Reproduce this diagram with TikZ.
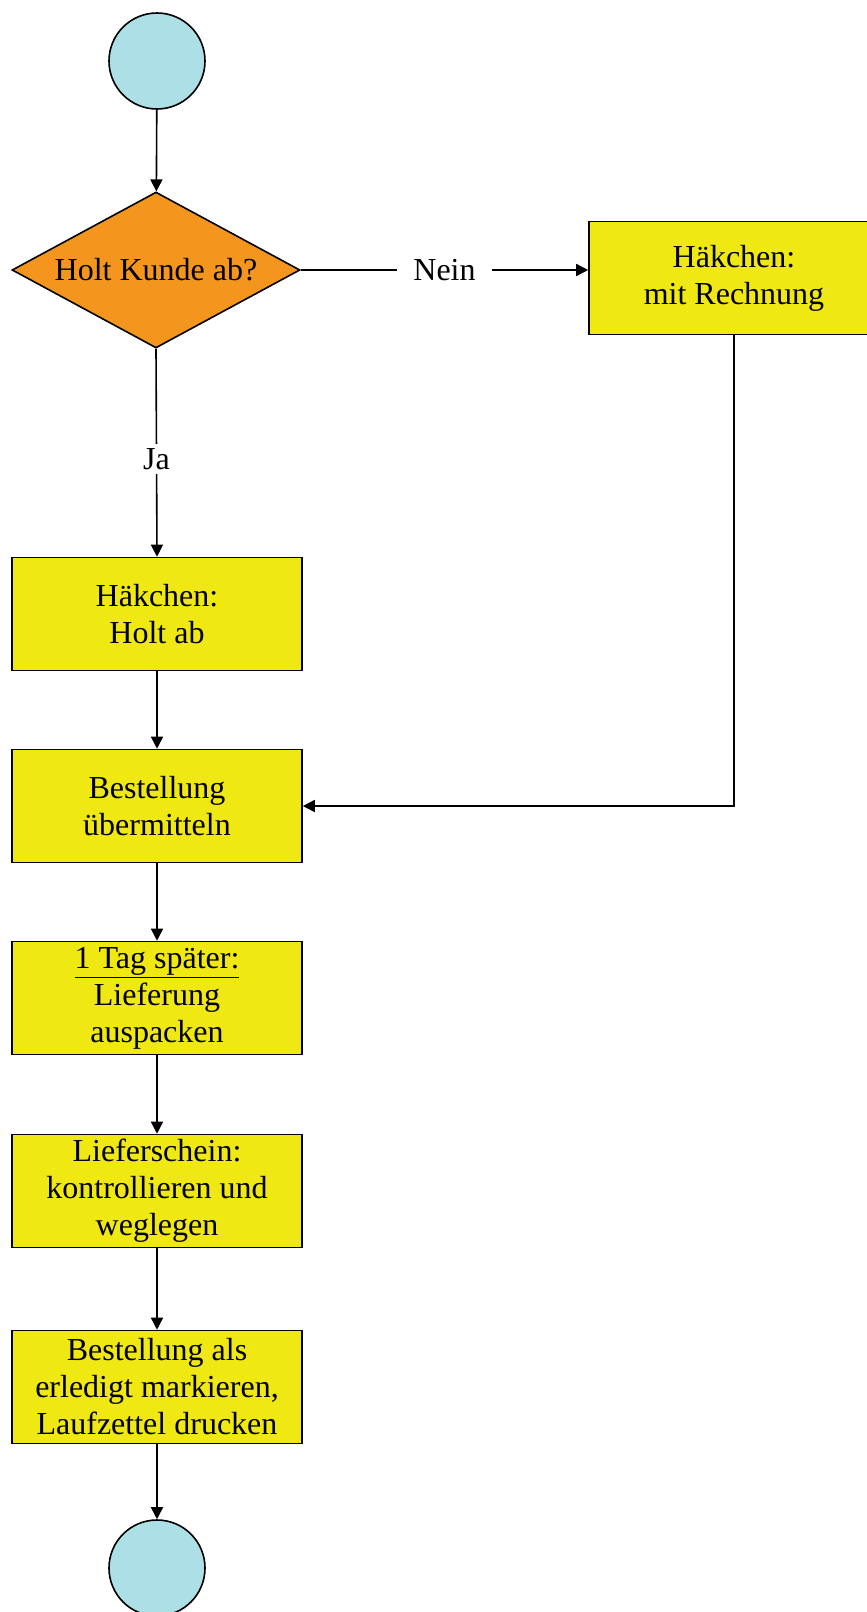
\documentclass[tikz,border=0pt]{standalone}
\usepackage{fontspec}
\setmainfont{Liberation Serif}
\usetikzlibrary{shapes.geometric,arrows.meta}
\definecolor{boxyellow}{RGB}{240,232,18}
\definecolor{askorange}{RGB}{244,150,30}
\definecolor{endblue}{RGB}{172,224,230}
\tikzset{
    flow/.style={draw=black, line width=0.8pt},
    terminal/.style={flow, circle, fill=endblue, minimum size=48pt, inner sep=0pt},
    ask/.style={flow, diamond, fill=askorange, aspect=1.85, minimum width=144pt, minimum height=78pt, inner sep=0pt},
    task/.style={flow, rectangle, fill=boxyellow, minimum width=145pt, minimum height=56.5pt, inner sep=1pt, align=center},
    arr/.style={line width=0.8pt, -{Triangle[length=6pt,width=6pt]}},
    lbl/.style={fill=white, inner xsep=8pt, inner ysep=2pt}
}
\begin{document}
\begin{tikzpicture}[x=0.5pt, y=-0.5pt, font=\fontsize{16pt}{18.5pt}\selectfont]
    \useasboundingbox[fill=white] (0,0) rectangle (867,1612);
    \node[terminal] (start) at (157,61) {};
    \node[ask] (kunde) at (156,270) {Holt Kunde ab?};
    \node[task] (rechnung) at (734,278) {Häkchen:\\mit Rechnung};
    \node[task] (holtab) at (157,614) {Häkchen:\\Holt ab};
    \node[task] (uebermitteln) at (157,806) {Bestellung\\übermitteln};
    \node[task] (lieferung) at (157,998) {\underline{1 Tag später:}\\Lieferung\\auspacken};
    \node[task] (schein) at (157,1191) {Lieferschein:\\kontrollieren und\\weglegen};
    \node[task] (erledigt) at (157,1387) {Bestellung als\\erledigt markieren,\\Laufzettel drucken};
    \node[terminal] (ende) at (157,1568) {};

    \draw[arr] (start) -- (kunde);
    \draw[arr] (kunde.east) -- node[lbl] {Nein} (kunde.east -| rechnung.west);
    \draw[arr] (kunde.south) -- node[lbl, pos=0.53] {Ja} (holtab.north);
    \draw[arr] (holtab) -- (uebermitteln);
    \draw[arr] (rechnung.south) |- (uebermitteln.east);
    \draw[arr] (uebermitteln) -- (lieferung);
    \draw[arr] (lieferung) -- (schein);
    \draw[arr] (schein) -- (erledigt);
    \draw[arr] (erledigt) -- (ende);
\end{tikzpicture}
\end{document}
